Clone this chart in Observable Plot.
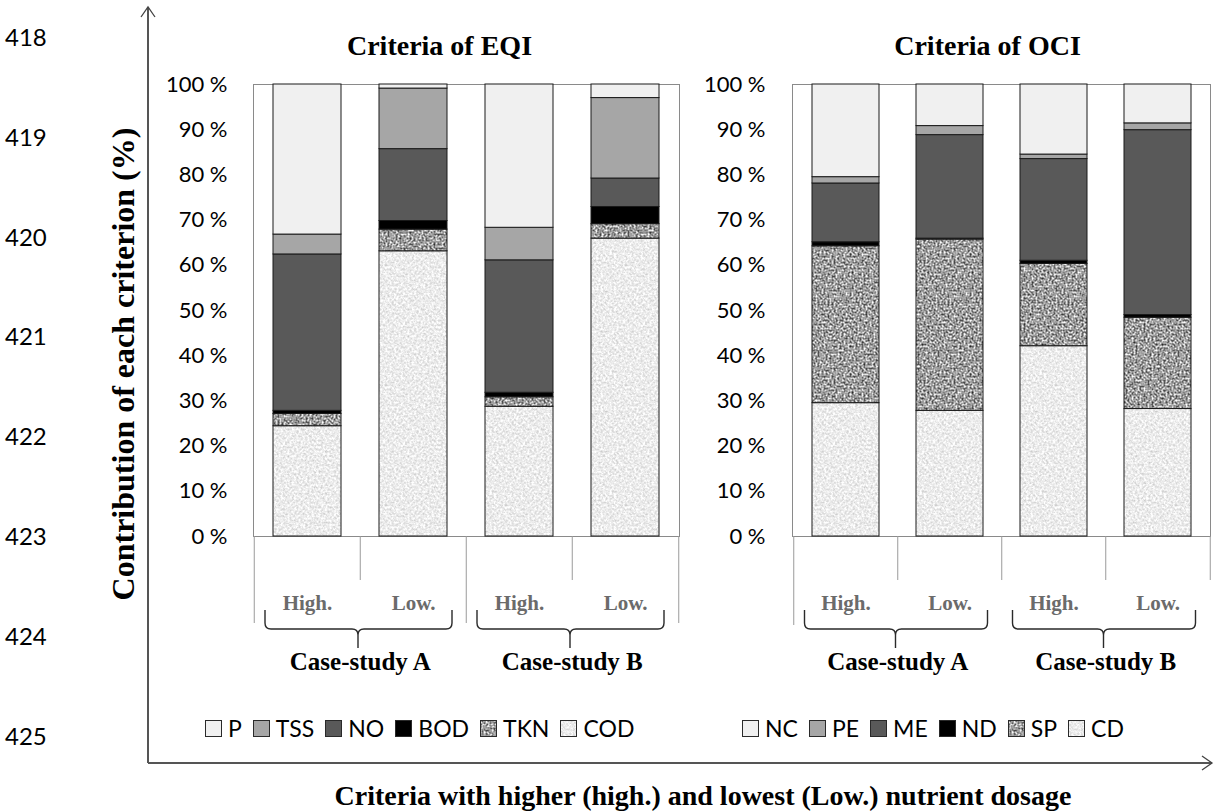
<!DOCTYPE html>
<html><head><meta charset="utf-8">
<script src="https://cdn.jsdelivr.net/npm/d3@7"></script>
<script src="https://cdn.jsdelivr.net/npm/@observablehq/plot@0.6"></script>
<style>
body{margin:0;background:#fff;}
#wrap{position:relative;width:1214px;height:811px;overflow:hidden;background:#fff;}
.chart{position:absolute;top:0;}
.legend{position:absolute;display:flex;align-items:center;font-family:Lato,sans-serif;font-size:23px;color:#000;white-space:nowrap;line-height:1;}
.legend .item{display:flex;align-items:center;margin-right:11px;}
.legend svg{margin-right:6px;display:block;}
</style></head>
<body>
<svg width="0" height="0" style="position:absolute">
  <defs>
    <filter id="nLight" x="0" y="0" width="1" height="1" color-interpolation-filters="sRGB">
      <feTurbulence type="fractalNoise" baseFrequency="0.45" numOctaves="3" seed="7" stitchTiles="stitch"/>
      <feColorMatrix type="matrix" values="0.35 0 0 0 0.75  0.35 0 0 0 0.75  0.35 0 0 0 0.75  0 0 0 0 1"/>
    </filter>
    <filter id="nDark" x="0" y="0" width="1" height="1" color-interpolation-filters="sRGB">
      <feTurbulence type="fractalNoise" baseFrequency="0.5" numOctaves="3" seed="3" stitchTiles="stitch"/>
      <feColorMatrix type="matrix" values="1.4 0 0 0 -0.08  1.4 0 0 0 -0.08  1.4 0 0 0 -0.08  0 0 0 0 1"/>
    </filter>
    <pattern id="patLight" patternUnits="userSpaceOnUse" width="120" height="120">
      <rect width="120" height="120" filter="url(#nLight)"/>
    </pattern>
    <pattern id="patDark" patternUnits="userSpaceOnUse" width="120" height="120">
      <rect width="120" height="120" filter="url(#nDark)"/>
    </pattern>
  </defs>
</svg>
<div id="wrap"></div>
<script>
// ---------------- DATA ----------------
const groups = ["High-A", "Low-A", "High-B", "Low-B"];
const groupLabels = ["High.", "Low.", "High.", "Low."];
const caseStudies = ["Case-study A", "Case-study B"];
const yTicks = [0, 10, 20, 30, 40, 50, 60, 70, 80, 90, 100];
const lineNumbers = ["418", "419", "420", "421", "422", "423", "424", "425"];

// EQI criteria (stack order bottom -> top)
const eqiSeries = ["COD", "TKN", "BOD", "NO", "TSS", "P"];
const eqiCOD = [24.4, 63.1, 28.7, 65.9];
const eqiTKN = [2.7, 4.8, 2.1, 3.2];
const eqiBOD = [0.7, 1.9, 1.0, 3.8];
const eqiNO  = [34.6, 15.9, 29.3, 6.3];
const eqiTSS = [4.4, 13.4, 7.2, 17.8];
const eqiP   = [33.2, 0.9, 31.7, 3.0];
const eqiLegend = ["P", "TSS", "NO", "BOD", "TKN", "COD"];

// OCI criteria (stack order bottom -> top)
const ociSeries = ["CD", "SP", "ND", "ME", "PE", "NC"];
const ociCD = [29.5, 27.8, 42.1, 28.2];
const ociSP = [34.7, 37.9, 18.2, 20.2];
const ociND = [0.9, 0.2, 0.7, 0.6];
const ociME = [13.0, 22.9, 22.5, 40.9];
const ociPE = [1.4, 2.0, 1.0, 1.5];
const ociNC = [20.5, 9.2, 15.5, 8.6];
const ociLegend = ["NC", "PE", "ME", "ND", "SP", "CD"];

// ---------------- STYLE ----------------
const fills = ["url(#patLight)", "url(#patDark)", "#000000", "#595959", "#a6a6a6", "#f0f0f0"];
const serif = "'Liberation Serif', 'Times New Roman', serif";

const wrap = document.getElementById("wrap");

function makeChart(cfg) {
  const data = [];
  cfg.series.forEach((s, i) => groups.forEach((g, j) => data.push({group: g, series: s, value: cfg.values[i][j]})));
  const H = 690, mT = 84, mB = 154;
  const W = cfg.width - cfg.mL - cfg.mR;
  const step = W / 4;
  const ppu = (H - mT - mB) / 100;
  const plot = Plot.plot({
    width: cfg.width, height: H,
    marginLeft: cfg.mL, marginRight: cfg.mR, marginTop: mT, marginBottom: mB,
    style: {fontFamily: "Lato, sans-serif", fontSize: "22px", color: "#000", background: "transparent", overflow: "visible"},
    x: {domain: groups, paddingInner: 0.36, paddingOuter: 0.18, axis: null},
    y: {domain: [0, 100], axis: null},
    color: {domain: cfg.series, range: fills},
    marks: [
      Plot.frame({stroke: "#8a8a8a", strokeWidth: 1}),
      Plot.barY(data, {x: "group", y: "value", fill: "series", stroke: "#1a1a1a", strokeWidth: 1}),
      Plot.axisY({ticks: yTicks, tickSize: 0, tickPadding: cfg.pad, tickFormat: d => d + " %", label: null, fontSize: 22, fill: "#000"}),
      Plot.ruleX(groups, {x: d => d, dx: -step / 2, y1: 0, y2: (d, i) => -cfg.depths[i] / ppu, stroke: "#9a9a9a", strokeWidth: 1}),
      Plot.ruleX([groups[3]], {x: d => d, dx: step / 2, y1: 0, y2: -cfg.depths[4] / ppu, stroke: "#9a9a9a", strokeWidth: 1}),
      Plot.text(groups, {x: d => d, y: 0, dy: 73, lineAnchor: "bottom", text: (d, i) => groupLabels[i],
        fontFamily: serif, fontWeight: "bold", fontSize: 21, fill: "#6b6b6b"}),
      Plot.text(caseStudies, {x: (d, i) => groups[2 * i + 1], y: 0, dx: -step / 2, dy: 133, lineAnchor: "bottom", text: d => d,
        fontFamily: serif, fontWeight: "bold", fontSize: 25, fill: "#000"}),
      Plot.text([cfg.title], {frameAnchor: "top", dx: cfg.titleDx, dy: -30, lineAnchor: "bottom", text: d => d,
        fontFamily: serif, fontWeight: "bold", fontSize: 28, fill: "#000"})
    ]
  });
  plot.classList.add("chart");
  plot.style.left = cfg.left + "px";
  wrap.appendChild(plot);

  // braces under each case-study, positioned with the plot's own scales
  const xs = plot.scale("x"), ys = plot.scale("y");
  const y0 = ys.apply(0);
  const bw = xs.bandwidth, gap = (xs.step - bw) / 2;
  const svg = d3.select(plot);
  for (let i = 0; i < 2; i++) {
    const le = xs.apply(groups[2 * i]) - gap;
    const re = xs.apply(groups[2 * i + 1]) + bw + gap;
    const a = le + 11, b = re - 14, m = (le + re) / 2 - 2;
    const yt = y0 + 74, ym = y0 + 93, yb = y0 + 112;
    const p = `M${a},${yt} L${a},${ym - 6} Q${a},${ym} ${a + 6},${ym} L${m - 6},${ym} Q${m},${ym} ${m},${ym + 6} L${m},${yb}` +
              `M${m},${ym + 6} Q${m},${ym} ${m + 6},${ym} L${b - 6},${ym} Q${b},${ym} ${b},${ym - 6} L${b},${yt}`;
    svg.append("path").attr("d", p).attr("fill", "none").attr("stroke", "#2a2a2a").attr("stroke-width", 1.4);
  }
}

makeChart({series: eqiSeries, values: [eqiCOD, eqiTKN, eqiBOD, eqiNO, eqiTSS, eqiP], title: "Criteria of EQI",
  left: 150, width: 540, mL: 103, mR: 11, pad: 26, titleDx: -27, depths: [87, 44, 87, 44, 87]});
makeChart({series: ociSeries, values: [ociCD, ociSP, ociND, ociME, ociPE, ociNC], title: "Criteria of OCI",
  left: 700, width: 514, mL: 92, mR: 4, pad: 27, titleDx: -14, depths: [89, 44, 44, 44, 44]});

// ---------------- PAGE OVERLAY (axes arrows, titles, line numbers) ----------------
const ov = d3.select(wrap).append("svg").attr("width", 1214).attr("height", 811)
  .style("position", "absolute").style("left", 0).style("top", 0).style("pointer-events", "none");
ov.append("line").attr("x1", 148).attr("y1", 7).attr("x2", 148).attr("y2", 763).attr("stroke", "#555").attr("stroke-width", 2);
ov.append("line").attr("x1", 148).attr("y1", 763).attr("x2", 1212).attr("y2", 763).attr("stroke", "#555").attr("stroke-width", 2);
ov.append("path").attr("d", "M141,17 L148,7 L155,17").attr("fill", "none").attr("stroke", "#444").attr("stroke-width", 1.3);
ov.append("path").attr("d", "M1202,756 L1212,763 L1202,770").attr("fill", "none").attr("stroke", "#444").attr("stroke-width", 1.3);

ov.selectAll("text.ln").data(lineNumbers).join("text").attr("class", "ln")
  .attr("x", 5).attr("y", (d, i) => 46 + i * 99.8).text(d => d)
  .attr("font-family", "Lato, sans-serif").attr("font-size", 24).attr("fill", "#000");

ov.append("text").attr("transform", "translate(134,364) rotate(-90)").attr("text-anchor", "middle")
  .attr("font-family", serif).attr("font-weight", "bold").attr("font-size", 32)
  .text("Contribution of each criterion (%)");

ov.append("text").attr("x", 703).attr("y", 805).attr("text-anchor", "middle")
  .attr("font-family", serif).attr("font-weight", "bold").attr("font-size", 28)
  .text("Criteria with higher (high.) and lowest (Low.) nutrient dosage");

// ---------------- LEGENDS ----------------
function legend(labels, series, left) {
  const div = document.createElement("div");
  div.className = "legend";
  div.style.left = left + "px";
  div.style.top = "717px";
  labels.forEach(lab => {
    const idx = series.indexOf(lab);
    const it = document.createElement("div");
    it.className = "item";
    it.innerHTML = `<svg width="17" height="17"><rect x="0.5" y="0.5" width="16" height="16" fill="${fills[idx]}" stroke="#2a2a2a" stroke-width="1"/></svg><span>${lab}</span>`;
    div.appendChild(it);
  });
  wrap.appendChild(div);
}
legend(eqiLegend, eqiSeries, 205);
legend(ociLegend, ociSeries, 742);
</script>
</body></html>
